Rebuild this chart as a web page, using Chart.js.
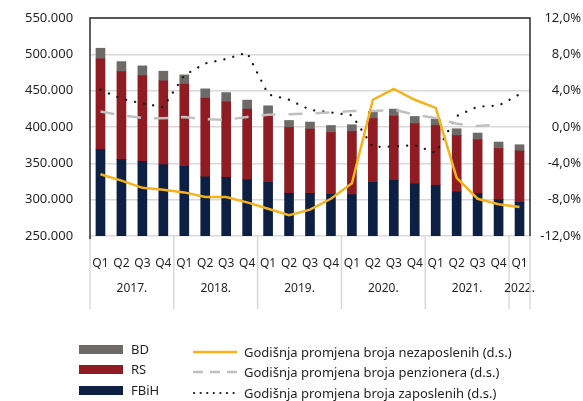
<!DOCTYPE html>
<html>
<head>
<meta charset="utf-8">
<script src="https://cdn.jsdelivr.net/npm/chart.js@4"></script>
<style>
  body { margin: 0; background: #fff; font-family: "Noto Sans", sans-serif; color: #231f20; }
  #wrap { position: relative; width: 583px; height: 401px; }
  .leg { position: absolute; font-size: 13px; line-height: 16px; white-space: nowrap; }
  .sw { position: absolute; width: 44px; height: 9px; }
</style>
</head>
<body>
<div id="wrap">
  <canvas id="nezaposleni"></canvas>

  <div class="sw" style="left:79px; top:345px; background:#6e6a67"></div>
  <div class="leg" style="left:131px; top:341px">BD</div>
  <div class="sw" style="left:79px; top:365px; background:#8e1c22"></div>
  <div class="leg" style="left:131px; top:361px">RS</div>
  <div class="sw" style="left:79px; top:386px; background:#0d2044"></div>
  <div class="leg" style="left:131px; top:382px">FBiH</div>

  <svg style="position:absolute; left:190px; top:340px" width="52" height="60">
    <line x1="3" y1="12" x2="47" y2="12" stroke="#f5b21a" stroke-width="2.5" />
    <line x1="3" y1="32" x2="47" y2="32" stroke="#c0c0c0" stroke-width="2.5" stroke-dasharray="10 7" />
    <line x1="4" y1="53" x2="47" y2="53" stroke="#1a1a1a" stroke-width="2.2" stroke-linecap="round" stroke-dasharray="0.1 6.5" />
  </svg>
  <div class="leg" style="left:244px; top:344px">Godišnja promjena broja nezaposlenih (d.s.)</div>
  <div class="leg" style="left:244px; top:364px">Godišnja promjena broja penzionera (d.s.)</div>
  <div class="leg" style="left:244px; top:385px">Godišnja promjena broja zaposlenih (d.s.)</div>
</div>

<script>
const kvartali = [
  "Q1", "Q2", "Q3", "Q4", "Q1", "Q2", "Q3", "Q4", "Q1", "Q2", "Q3", "Q4",
  "Q1", "Q2", "Q3", "Q4", "Q1", "Q2", "Q3", "Q4", "Q1",
];
const godine = ["2017.", "2018.", "2019.", "2020.", "2021.", "2022."];
const kvartala_po_godini = [4, 4, 4, 4, 4, 1];

// broj nezaposlenih po entitetima
const valores_FBiH = [
  368800, 355000, 352700, 348200, 345800, 331300, 330700, 327200, 323900,
  308800, 308800, 307400, 307000, 323900, 326600, 321700, 319700, 310700,
  308800, 300100, 296400,
];
const valores_RS = [
  124900, 121300, 118100, 115300, 113200, 108400, 104000, 97400, 92000, 90600,
  88400, 85100, 86900, 87800, 88400, 82800, 82400, 77700, 73700, 70400, 70600,
];
const valores_BD = [
  14700, 13700, 13300, 13300, 12700, 12800, 12700, 12400, 13300, 9600, 9600,
  9600, 9200, 9700, 9600, 10000, 8800, 9200, 9200, 8800, 8600,
];

// godisnje promjene, % (desna skala)
const promjena_nezaposlenih = [
  -5.2, -5.9, -6.7, -6.9, -7.2, -7.7, -7.7, -8.3, -9.0, -9.7, -9.1, -7.9, -6.2,
  3.0, 4.2, 3.0, 2.1, -5.6, -7.9, -8.5, -8.8,
];
const promjena_penzionera = [
  1.7, 1.3, 1.0, 0.95, 1.1, 0.85, 0.8, 1.1, 1.35, 1.4, 1.5, 1.6, 1.75, 1.75,
  1.9, 1.35, 1.0, 0.35, 0.1, 0.25, null,
];
const promjena_zaposlenih = [
  4.1, 3.1, 2.6, 2.2, 5.7, 7.0, 7.5, 8.2, 3.6, 3.0, 1.9, 1.6, 1.3, -2.2, -2.15,
  -2.0, -2.85, 1.2, 2.25, 2.35, 3.6,
];

const colorFBiH = "#0d2044";
const colorRS = "#8e1c22";
const colorBD = "#6e6a67";
const colorNez = "#f5b21a";
const colorPenz = "#c0c0c0";
const colorZap = "#1a1a1a";
const tekst = "#231f20";

Chart.defaults.font.family = "'Noto Sans', sans-serif";
Chart.defaults.color = tekst;

// godine ispod kvartala + okvir grafika
const godinePlugin = {
  id: "godine",
  afterDraw(chart) {
    const ctx = chart.ctx;
    const x = chart.scales.x;
    const area = chart.chartArea;
    const pola = (x.getPixelForValue(1) - x.getPixelForValue(0)) / 2;

    ctx.save();
    ctx.strokeStyle = "#d9d9d9";
    ctx.lineWidth = 1.5;
    ctx.fillStyle = tekst;
    ctx.font = "12px 'Noto Sans'";
    ctx.textAlign = "center";
    ctx.textBaseline = "middle";

    let start = 0;
    let desno = area.left;
    godine.forEach((g, k) => {
      const n = kvartala_po_godini[k];
      const lijevo = x.getPixelForValue(start) - pola;
      desno = x.getPixelForValue(start + n - 1) + pola;
      ctx.beginPath();
      ctx.moveTo(lijevo, area.bottom);
      ctx.lineTo(lijevo, 309);
      ctx.stroke();
      ctx.fillText(g, (lijevo + desno) / 2, 289);
      start += n;
    });
    ctx.beginPath();
    ctx.moveTo(desno, area.bottom);
    ctx.lineTo(desno, 309);
    ctx.stroke();

    // okvir
    ctx.strokeStyle = "#2b2b2b";
    ctx.lineWidth = 1.5;
    ctx.beginPath();
    ctx.moveTo(area.left, area.bottom + 3);
    ctx.lineTo(area.left, area.top);
    ctx.lineTo(area.right, area.top);
    ctx.lineTo(area.right, area.bottom);
    ctx.stroke();
    ctx.restore();
  },
};

const grafico = new Chart(document.getElementById("nezaposleni"), {
  type: "bar",
  data: {
    labels: kvartali,
    datasets: [
      {
        type: "line",
        label: "Godišnja promjena broja nezaposlenih (d.s.)",
        data: promjena_nezaposlenih,
        yAxisID: "y1",
        borderColor: colorNez,
        borderWidth: 2.5,
        pointRadius: 0,
        tension: 0,
        order: 0,
      },
      {
        type: "line",
        label: "Godišnja promjena broja penzionera (d.s.)",
        data: promjena_penzionera,
        yAxisID: "y1",
        borderColor: colorPenz,
        borderWidth: 2.5,
        borderDash: [14, 13],
        pointRadius: 0,
        tension: 0,
        order: 0,
      },
      {
        type: "line",
        label: "Godišnja promjena broja zaposlenih (d.s.)",
        data: promjena_zaposlenih,
        yAxisID: "y1",
        borderColor: colorZap,
        borderWidth: 2.3,
        borderDash: [0.1, 9.1],
        borderCapStyle: "round",
        pointRadius: 0,
        tension: 0,
        order: 0,
      },
      {
        label: "FBiH",
        data: valores_FBiH,
        backgroundColor: colorFBiH,
        barThickness: 9,
        order: 1,
      },
      {
        label: "RS",
        data: valores_RS,
        backgroundColor: colorRS,
        barThickness: 9,
        order: 1,
      },
      {
        label: "BD",
        data: valores_BD,
        backgroundColor: colorBD,
        barThickness: 9,
        order: 1,
      },
    ],
  },
  options: {
    responsive: true,
    maintainAspectRatio: false,
    animation: false,
    layout: { padding: { top: 18, right: 2, left: 25, bottom: 0 } },
    plugins: {
      legend: { display: false },
      tooltip: { enabled: false },
    },
    scales: {
      x: {
        stacked: true,
        grid: { display: false },
        border: { display: false },
        ticks: {
          font: { size: 12 },
          color: tekst,
          padding: 12,
          autoSkip: false,
          maxRotation: 0,
        },
        afterFit(scale) {
          scale.height = 165;
        },
      },
      y: {
        stacked: true,
        min: 250000,
        max: 550000,
        border: { display: false },
        grid: { color: "#d9d9d9", lineWidth: 1.5, drawTicks: false },
        ticks: {
          stepSize: 50000,
          crossAlign: "far",
          font: { size: 13 },
          color: tekst,
          callback: (v) => v.toLocaleString("de-DE"),
        },
        afterFit(scale) {
          scale.width = 65;
        },
      },
      y1: {
        position: "right",
        min: -12,
        max: 12,
        border: { display: false },
        grid: { display: false, drawTicks: false },
        ticks: {
          stepSize: 4,
          crossAlign: "far",
          font: { size: 13 },
          color: tekst,
          callback: (v) => v.toFixed(1).replace(".", ",") + "%",
        },
        afterFit(scale) {
          scale.width = 51;
        },
      },
    },
  },
  plugins: [godinePlugin],
});
</script>
</body>
</html>
